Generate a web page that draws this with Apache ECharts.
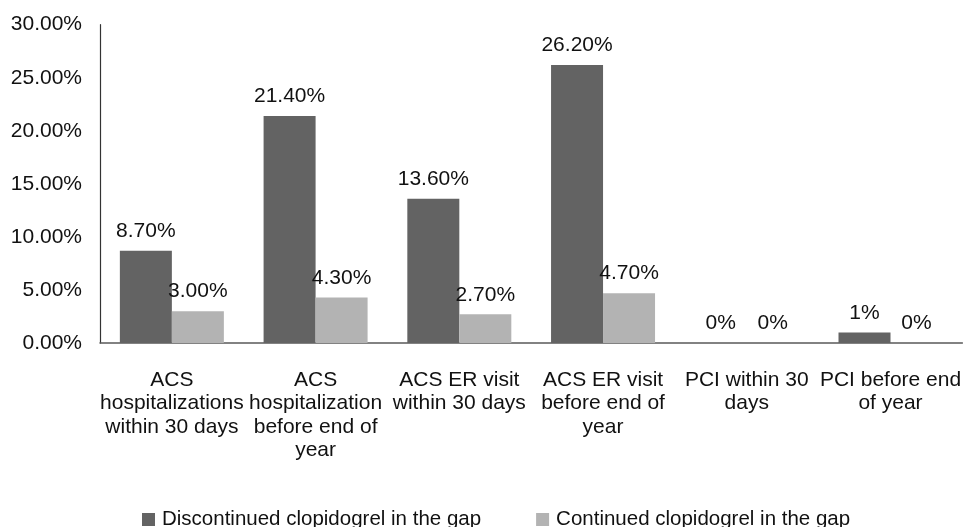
<!DOCTYPE html>
<html>
<head>
<meta charset="utf-8">
<script src="https://cdn.jsdelivr.net/npm/echarts@6/dist/echarts.min.js"></script>
<style>html,body{margin:0;padding:0;background:#fff;}#c{width:964px;height:527px;}</style>
</head>
<body>
<div id="c"></div>
<script>
var categories = [
  'ACS\nhospitalizations\nwithin 30 days',
  'ACS\nhospitalization\nbefore end of\nyear',
  'ACS ER visit\nwithin 30 days',
  'ACS ER visit\nbefore end of\nyear',
  'PCI within 30\ndays',
  'PCI before end\nof year'
];
var seriesNames = ['Discontinued clopidogrel in the gap', 'Continued clopidogrel in the gap'];
var discontinued = [0.087, 0.214, 0.136, 0.262, 0, 0.01];
var continued = [0.030, 0.043, 0.027, 0.047, 0, 0];
var labelDecimals = [2, 2, 2, 2, 0, 0];
var yTicks = { min: 0, max: 0.30, interval: 0.05 };

var font = 'Liberation Sans, Arial, sans-serif';
var textColor = '#111';

function labelFmt(p) {
  return (p.value * 100).toFixed(labelDecimals[p.dataIndex]) + '%';
}

var chart = echarts.init(document.getElementById('c'), null, { renderer: 'canvas' });
chart.setOption({
  animation: false,
  backgroundColor: '#fff',
  textStyle: { fontFamily: font },
  grid: { left: 100, right: 0, top: 24.7, bottom: 184, containLabel: false },
  legend: {
    data: seriesNames,
    left: 137,
    top: 504,
    itemWidth: 13,
    itemHeight: 13,
    itemGap: 55,
    icon: 'rect',
    textStyle: { fontSize: 20.5, color: textColor, fontFamily: font, padding: [0, 0, 0, 2] }
  },
  xAxis: {
    type: 'category',
    data: categories,
    axisLine: { show: true, lineStyle: { color: '#595959', width: 1.5 } },
    axisTick: { show: false },
    axisLabel: { interval: 0, margin: 25, fontSize: 21, lineHeight: 23.5, color: textColor, fontFamily: font }
  },
  yAxis: {
    type: 'value',
    min: yTicks.min,
    max: yTicks.max,
    interval: yTicks.interval,
    axisLine: { show: true, lineStyle: { color: '#333333', width: 1.2 } },
    axisTick: { show: false },
    splitLine: { show: false },
    axisLabel: {
      margin: 18, fontSize: 21, color: textColor, fontFamily: font,
      formatter: function (v) { return (v * 100).toFixed(2) + '%'; }
    }
  },
  series: [
    {
      name: seriesNames[0], type: 'bar', data: discontinued,
      barWidth: 52, barGap: '0%',
      itemStyle: { color: '#636363' },
      label: { show: true, position: 'top', distance: 9, fontSize: 21, color: textColor, fontFamily: font, formatter: labelFmt }
    },
    {
      name: seriesNames[1], type: 'bar', data: continued,
      barWidth: 52, barGap: '0%',
      itemStyle: { color: '#b3b3b3' },
      label: { show: true, position: 'top', distance: 9, fontSize: 21, color: textColor, fontFamily: font, formatter: labelFmt }
    }
  ]
});
</script>
</body>
</html>
